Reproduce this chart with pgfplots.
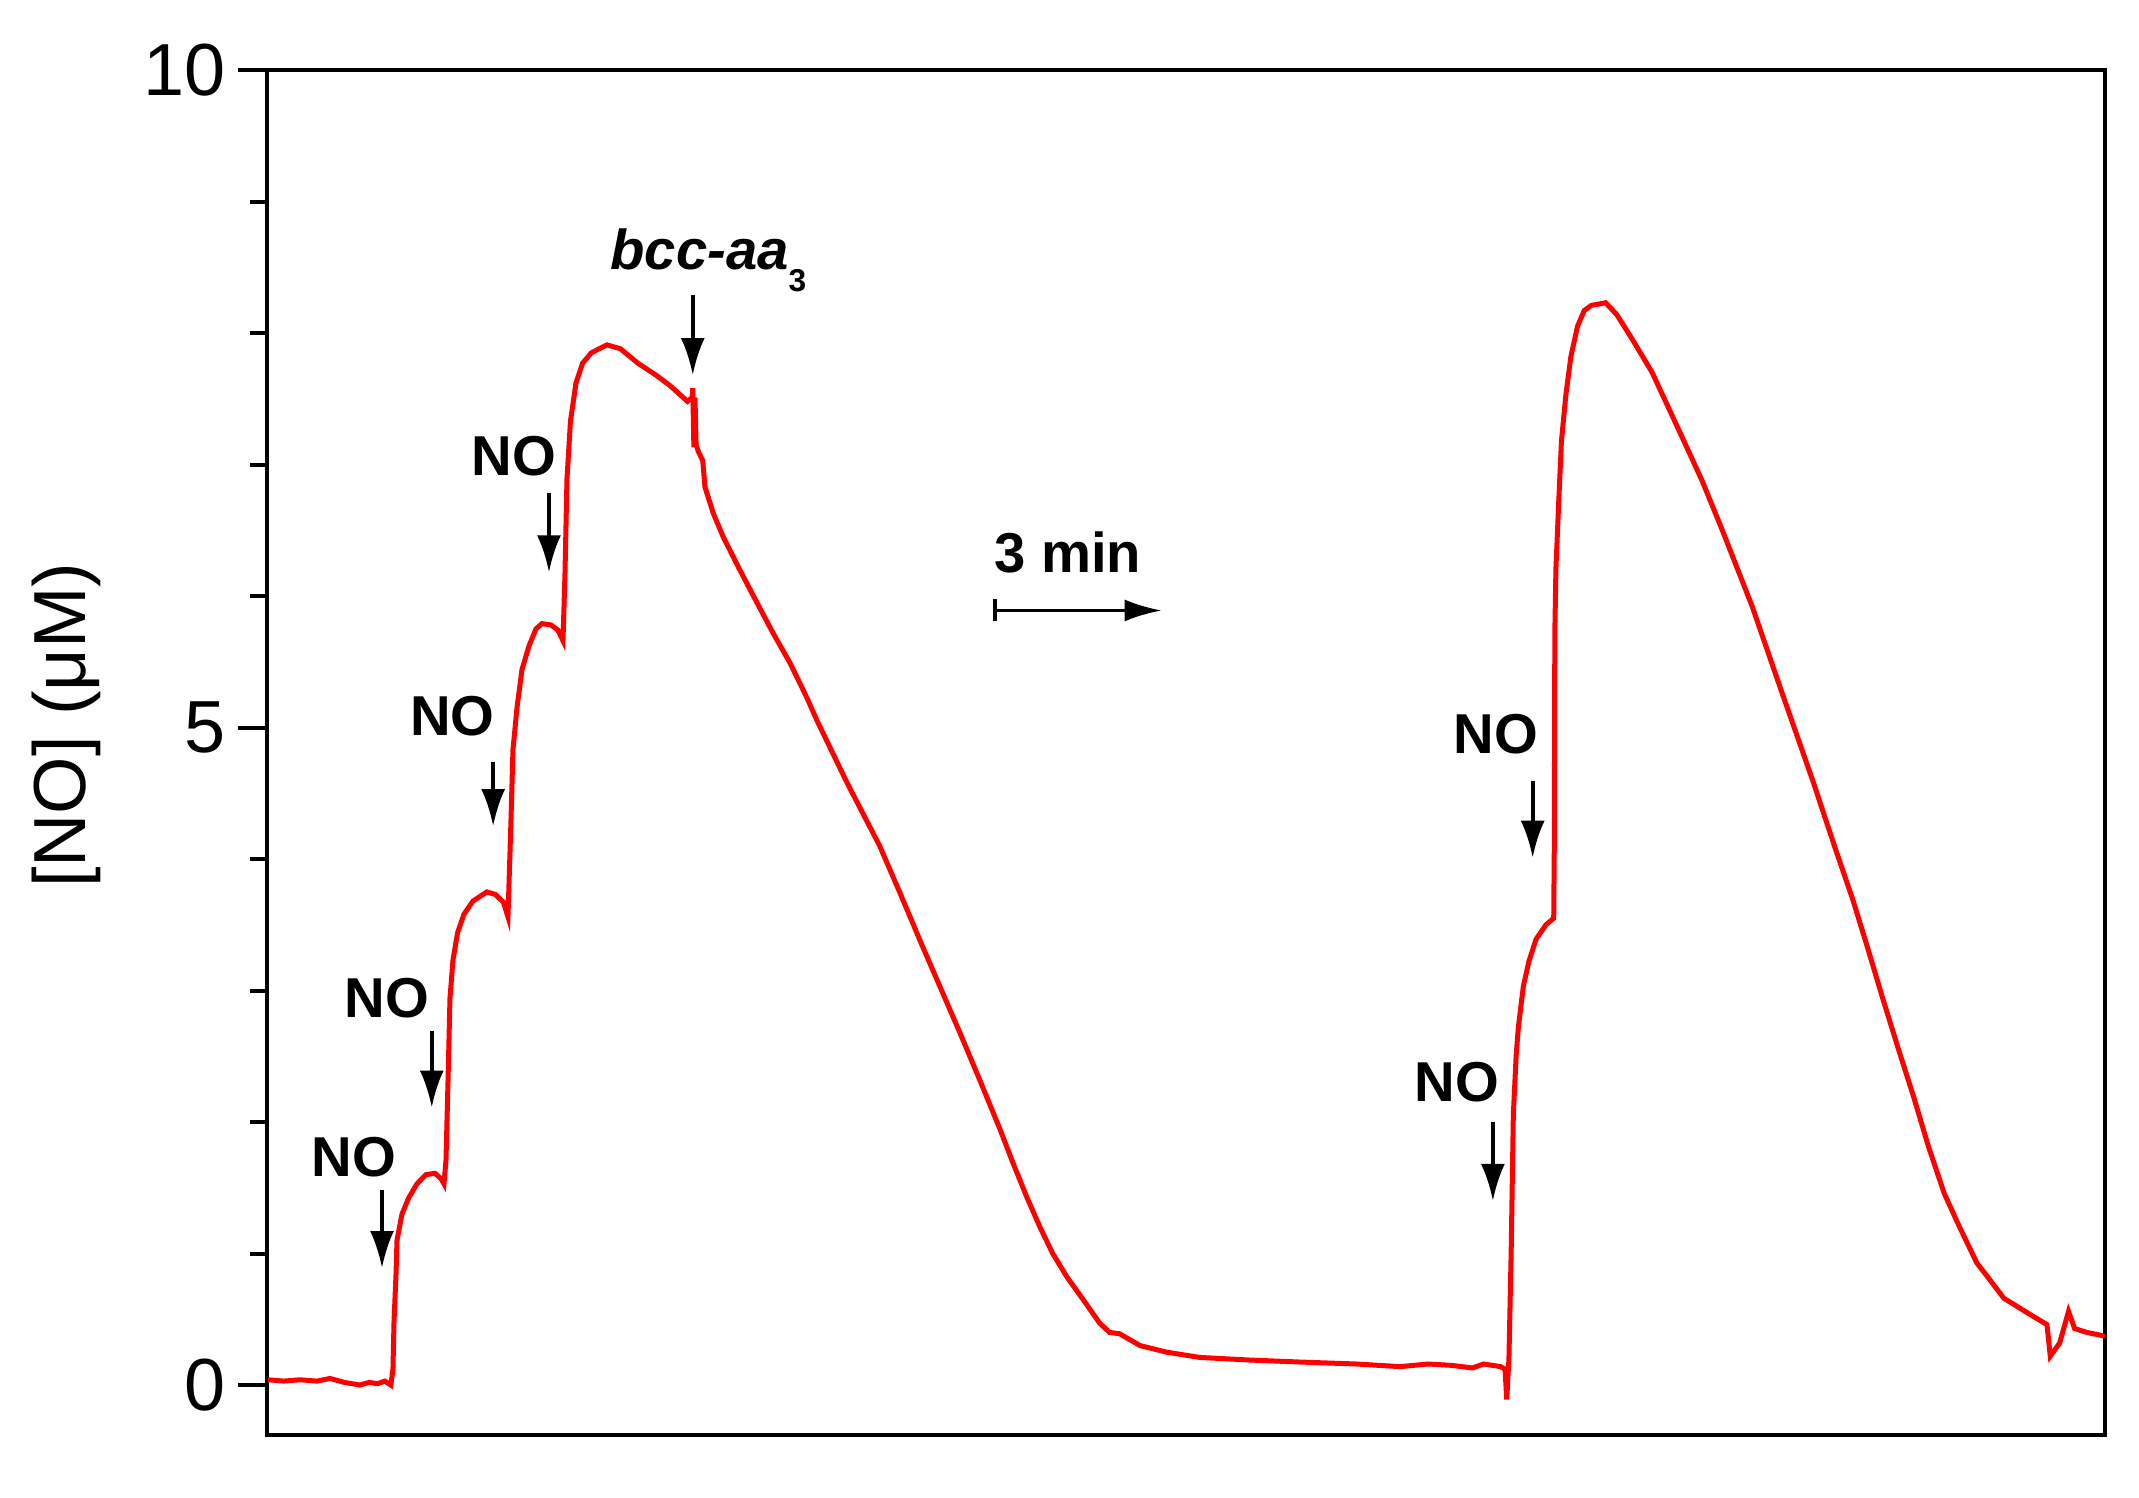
\documentclass[border=0pt]{standalone}
\usepackage{fontspec}
\setmainfont{Liberation Sans}
\usepackage{pgfplots}
\pgfplotsset{compat=1.18}
\usetikzlibrary{arrows.meta}

\newcommand{\lbl}{\fontsize{16}{16}\selectfont\bfseries}
\tikzset{noarrow/.style={line width=0.4mm, -{Latex[length=3.7mm,width=2.4mm]}}}

\begin{document}
\begin{tikzpicture}
\useasboundingbox (-26.7mm,-6.2mm) rectangle (187.2mm,143.5mm);
\begin{axis}[
    at={(0,0)}, anchor=south west,
    scale only axis,
    width=183.8mm, height=136.5mm,
    xmin=0, xmax=33.24,
    ymin=-0.38, ymax=10,
    xtick=\empty,
    ytick={0,5,10},
    minor y tick num=4,
    ytick pos=left,
    tick align=outside,
    major tick length=2.9mm,
    minor tick length=1.7mm,
    axis line style={line width=0.4mm},
    every tick/.style={line width=0.4mm, black},
    /pgf/number format/assume math mode=true,
    ticklabel style={font=\fontsize{21}{21}\selectfont},
    ylabel={[NO] (μM)},
    every axis y label/.style={at={(axis description cs:-0.109,0.52)}, rotate=90, anchor=center,
        font=\fontsize{21}{21}\selectfont},
]
% electrode trace, time in min
\addplot[red, line width=0.5mm] coordinates {
(0.02,0.04) (0.30,0.03) (0.60,0.04) (0.90,0.03) (1.14,0.05) (1.40,0.02) (1.68,0.00) (1.85,0.02)
(2.00,0.01) (2.13,0.03) (2.24,0.00)
(2.278,0.12) (2.297,0.48) (2.333,0.84) (2.351,1.10) (2.441,1.30) (2.559,1.42) (2.712,1.53)
(2.875,1.60) (3.038,1.61) (3.146,1.57) (3.201,1.53)
(3.237,1.71) (3.273,2.30) (3.309,2.94) (3.363,3.23) (3.447,3.44) (3.562,3.58) (3.725,3.68)
(3.978,3.75) (4.132,3.73) (4.278,3.67) (4.358,3.56)
(4.412,4.29) (4.448,4.83) (4.521,5.15) (4.611,5.44) (4.738,5.62) (4.864,5.75) (4.973,5.79)
(5.136,5.78) (5.262,5.74) (5.353,5.66)
(5.389,6.17) (5.425,6.89) (5.488,7.33) (5.588,7.62) (5.707,7.77) (5.868,7.85) (6.148,7.91)
(6.392,7.88) (6.709,7.77) (7.034,7.68) (7.288,7.60) (7.604,7.48)
(7.69,7.51) (7.70,7.58) (7.72,7.13) (7.74,7.51) (7.76,7.15) (7.80,7.10)
(7.88,7.03) (7.92,6.83) (8.07,6.63) (8.25,6.45) (8.55,6.20) (8.86,5.95) (9.15,5.72) (9.46,5.49)
(9.76,5.23) (9.95,5.05) (10.18,4.85) (10.49,4.58) (11.08,4.10) (11.45,3.74) (11.81,3.38)
(12.17,3.03) (12.53,2.68) (12.89,2.32) (13.27,1.93) (13.49,1.69) (13.74,1.43) (13.98,1.20)
(14.21,1.00) (14.47,0.82) (14.76,0.65) (15.06,0.47) (15.24,0.40) (15.42,0.39) (15.79,0.30)
(16.27,0.25) (16.87,0.21) (17.78,0.19) (18.68,0.175) (19.70,0.16) (20.488,0.14)
(21.00,0.16) (21.41,0.15) (21.80,0.13) (22.00,0.16) (22.31,0.14) (22.39,0.12) (22.42,-0.11)
(22.46,0.20) (22.50,1.00) (22.54,2.06) (22.59,2.50) (22.63,2.72) (22.72,3.03) (22.82,3.22)
(22.95,3.39) (23.13,3.50) (23.27,3.55) (23.28,4.07) (23.29,5.72) (23.31,6.21) (23.36,6.71)
(23.41,7.18) (23.49,7.53) (23.58,7.82) (23.70,8.05) (23.82,8.17) (23.95,8.21) (24.21,8.23)
(24.41,8.14) (24.68,7.96) (25.05,7.70) (25.59,7.21) (25.95,6.88) (26.31,6.51) (26.86,5.92)
(27.41,5.25) (27.96,4.59) (28.37,4.07) (28.68,3.69) (28.95,3.32) (29.22,2.94) (29.50,2.56)
(29.78,2.19) (30.05,1.81) (30.33,1.46) (30.60,1.21) (30.92,0.93) (31.14,0.81) (31.41,0.66)
(31.68,0.59) (31.95,0.52) (32.19,0.46) (32.25,0.22) (32.42,0.32) (32.58,0.56) (32.69,0.43)
(32.91,0.40) (33.15,0.38) (33.24,0.37)
};

% additions
\node[font=\lbl] at (axis cs:1.57,1.73) {NO};
\draw[noarrow] (axis cs:2.08,1.48) -- (axis cs:2.08,0.89);
\node[font=\lbl] at (axis cs:2.17,2.94) {NO};
\draw[noarrow] (axis cs:2.98,2.69) -- (axis cs:2.98,2.11);
\node[font=\lbl] at (axis cs:3.35,5.09) {NO};
\draw[noarrow] (axis cs:4.09,4.74) -- (axis cs:4.09,4.25);
\node[font=\lbl] at (axis cs:4.47,7.06) {NO};
\draw[noarrow] (axis cs:5.10,6.78) -- (axis cs:5.10,6.18);
\node[font=\lbl, anchor=base west, inner sep=0pt] at (axis cs:6.20,8.48)
    {\itshape bcc-aa\raisebox{-2.2mm}{\fontsize{9}{9}\selectfont\upshape 3}};
\draw[noarrow] (axis cs:7.70,8.29) -- (axis cs:7.70,7.68);
\node[font=\lbl] at (axis cs:21.52,2.30) {NO};
\draw[noarrow] (axis cs:22.17,2.00) -- (axis cs:22.17,1.40);
\node[font=\lbl] at (axis cs:22.22,4.95) {NO};
\draw[noarrow] (axis cs:22.89,4.59) -- (axis cs:22.89,4.01);

% time scale
\node[font=\lbl] at (axis cs:14.48,6.33) {3 min};
\draw[line width=0.35mm, {Bar[width=2.2mm]}-{Latex[length=3.7mm,width=2.2mm]}] (axis cs:13.13,5.89) -- (axis cs:16.18,5.89);
\end{axis}
\end{tikzpicture}
\end{document}
